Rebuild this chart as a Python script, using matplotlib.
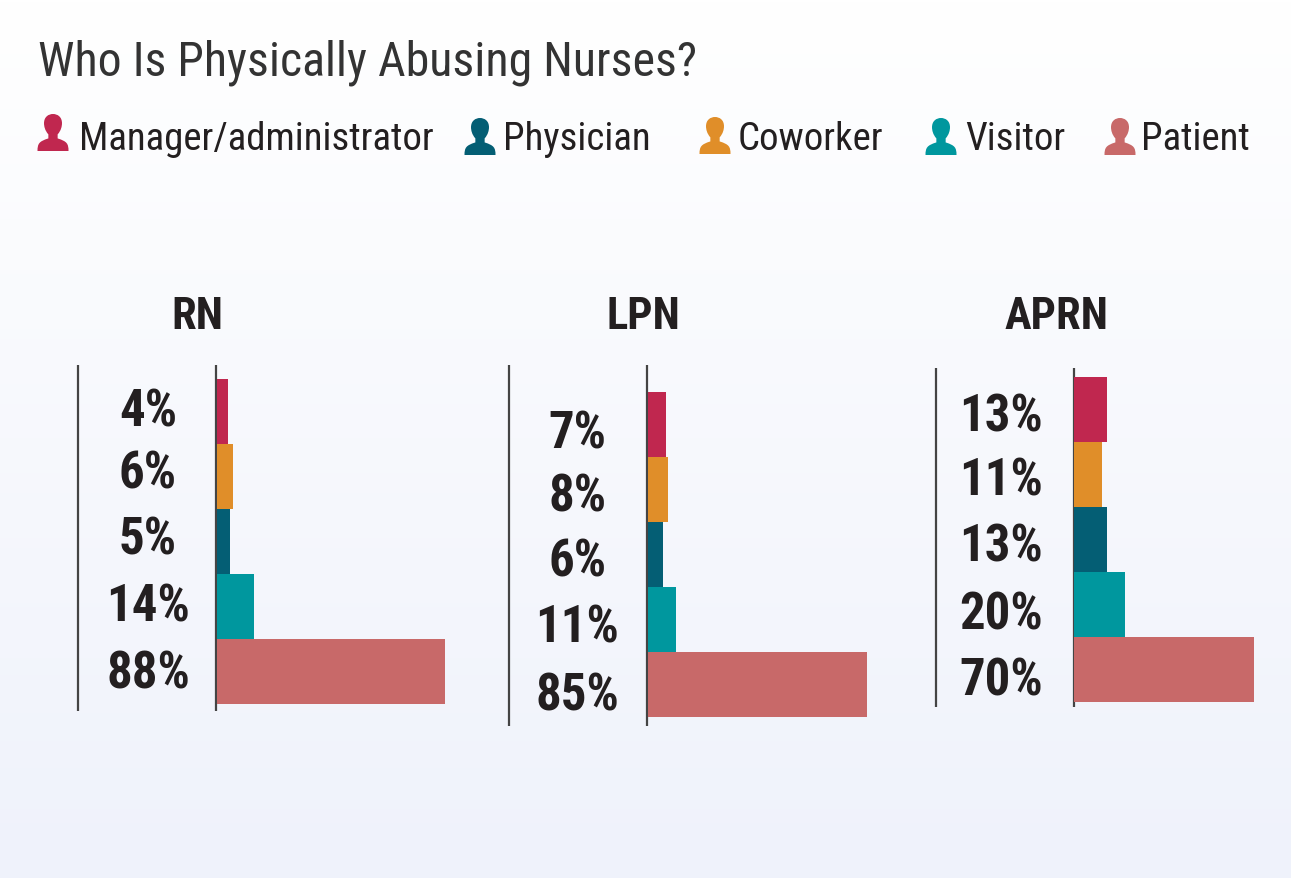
import numpy as np
import matplotlib
matplotlib.use("Agg")
import matplotlib.pyplot as plt
from matplotlib import font_manager as fm
from matplotlib.path import Path
from matplotlib.patches import PathPatch

installed = {f.name for f in fm.fontManager.ttflist}
FONT = next((n for n in ["Roboto Condensed", "Liberation Sans Narrow", "Roboto"] if n in installed), "DejaVu Sans")

W, H = 1291, 879
categories = ["Manager/administrator", "Coworker", "Physician", "Visitor", "Patient"]
colors = ["#c0274f", "#e08e29", "#045e74", "#00979e", "#c86969"]
panels = ["RN", "LPN", "APRN"]
rn = [4, 6, 5, 14, 88]
lpn = [7, 8, 6, 11, 85]
aprn = [13, 11, 13, 20, 70]
values = [rn, lpn, aprn]

PX_PER_PCT = 2.58
ROW = 65
geom = [
    dict(x0=217.5, top=380, line_l=77, line_r=215, ly=(366, 712), lab=148, head=197, off=[-3, -6, -5, -3, -1]),
    dict(x0=647.5, top=393, line_l=508, line_r=646, ly=(366, 727), lab=577.5, head=643, off=[6, 4, 4, 5, 8]),
    dict(x0=1073.5, top=378, line_l=935, line_r=1073, ly=(369, 708), lab=1001, head=1057, off=[4, 3, 4, 7, 8]),
]

fig = plt.figure(figsize=(W / 100, H / 100), dpi=100)
bg = fig.add_axes([0, 0, 1, 1], zorder=0)
bg.set_xlim(0, W)
bg.set_ylim(H, 0)
bg.axis("off")
top = np.array([255, 255, 255]) / 255
bot = np.array([239, 242, 251]) / 255
t = np.linspace(0, 1, 256)[:, None, None]
bg.imshow(top + (bot - top) * t, extent=(0, W, H, 0), aspect="auto", zorder=0)

TXT = "#231f20"
bg.text(37.5, 62.5, "Who Is Physically Abusing Nurses?", fontsize=34.5, color="#333333",
        family=FONT, va="center", ha="left")

# person icon outline: x centred on 0, y from 0 (top) to 1 (bottom)
M, L, C4, Z = Path.MOVETO, Path.LINETO, Path.CURVE4, Path.CLOSEPOLY
segs = [
    (M, [(-0.5, 1.0)]),
    (C4, [(-0.5, 0.80), (-0.45, 0.74), (-0.15, 0.66)]),
    (L, [(-0.15, 0.55)]),
    (C4, [(-0.26, 0.45), (-0.29, 0.33), (-0.29, 0.25)]),
    (C4, [(-0.29, 0.08), (-0.15, 0.0), (0.0, 0.0)]),
    (C4, [(0.15, 0.0), (0.29, 0.08), (0.29, 0.25)]),
    (C4, [(0.29, 0.33), (0.26, 0.45), (0.15, 0.55)]),
    (L, [(0.15, 0.66)]),
    (C4, [(0.45, 0.74), (0.5, 0.80), (0.5, 1.0)]),
    (Z, [(-0.5, 1.0)]),
]
verts, codes = [], []
for code, pts in segs:
    verts += pts
    codes += [code] * len(pts)
person = np.array(verts, float)

legend_order = [0, 2, 1, 3, 4]
icon_x = [53, 480, 715, 941, 1120]
icon_top = [115, 119, 118, 119, 119]
text_x = [78.5, 502.5, 737.5, 965.5, 1141]
for k, ix, it, tx in zip(legend_order, icon_x, icon_top, text_x):
    bg.add_patch(PathPatch(Path(person * [31, 37] + [ix, it], codes), fc=colors[k], ec="none", zorder=2))
    bg.text(tx, 140, categories[k], fontsize=28, color=TXT, family=FONT, va="center", ha="left")

for name, vals, g in zip(panels, values, geom):
    bg.text(g["head"], 317, name, fontsize=32, fontweight="bold", color=TXT, family=FONT,
            va="center", ha="center")
    for lx in (g["line_l"], g["line_r"]):
        bg.plot([lx + 0.5, lx + 0.5], g["ly"], color="#444444", lw=1.6, zorder=3, solid_capstyle="butt")
    wpx = 240
    ax = fig.add_axes([g["x0"] / W, 1 - (g["top"] + 5 * ROW) / H, wpx / W, 5 * ROW / H], zorder=2)
    ax.patch.set_alpha(0)
    ax.set_xlim(0, wpx / PX_PER_PCT)
    ax.set_ylim(4.5, -0.5)
    ax.axis("off")
    ax.barh(range(5), vals, height=1.0, color=colors, edgecolor="none")
    for i, v in enumerate(vals):
        ax.annotate(f"{v}%", xy=(0, i), xytext=(g["lab"] - g["x0"], -g["off"][i] - 3),
                    textcoords="offset pixels", ha="center", va="center",
                    fontsize=36.5, fontweight="bold", color=TXT, family=FONT, annotation_clip=False)

fig.savefig("out.png", dpi=100)
